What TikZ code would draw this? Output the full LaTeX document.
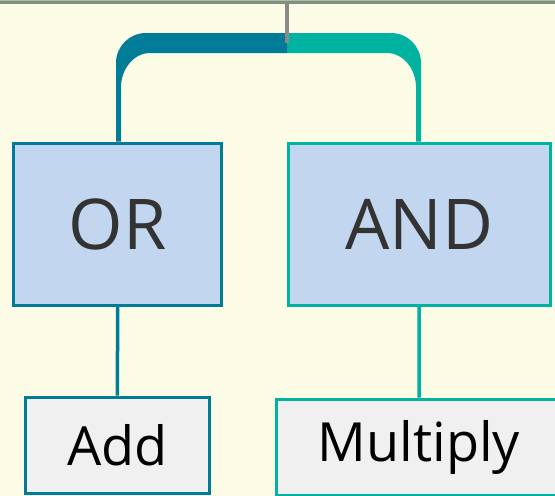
\documentclass[tikz,border=0pt]{standalone}
\usepackage{fontspec}
\setmainfont{Open Sans}
\usetikzlibrary{calc}
\definecolor{paper}{HTML}{FCFBE6}
\definecolor{ortone}{HTML}{007C98}
\definecolor{andtone}{HTML}{00B3A0}
\definecolor{rulegray}{HTML}{8A8A8A}
\definecolor{rulegreen}{HTML}{9CCB8C}
\definecolor{opfill}{HTML}{C2D6EF}
\definecolor{leaffill}{HTML}{F0F0F0}
\definecolor{optext}{HTML}{333333}
\tikzset{
  opbox/.style={draw, line width=3pt, fill=opfill, text=optext, inner sep=0pt,
    font=\fontsize{70}{70}\selectfont},
  leafbox/.style={draw, line width=3pt, fill=leaffill, text=black, inner sep=0pt,
    font=\fontsize{54}{54}\selectfont},
  link/.style={line width=3.5pt},
}
\begin{document}
\begin{tikzpicture}[x=1pt,y=-1pt]
  \fill[paper] (0,0) rectangle (555,496);
  \useasboundingbox (0,0) rectangle (555,496);
  \clip (0,0) rectangle (555,496);

  % operator and operand boxes
  \node[opbox, draw=ortone, minimum width=208pt, minimum height=162pt] (or) at (117.6,224) {OR};
  \node[opbox, draw=andtone, minimum width=261.7pt, minimum height=162pt] (and) at (419.2,224) {AND};
  \node[leafbox, draw=ortone, minimum width=183.3pt, minimum height=96pt] (add) at (117.4,445) {Add};
  \node[leafbox, draw=andtone, minimum width=285pt, minimum height=96pt, yshift=-2pt] (mul) at (419,445) {Multiply};

  % split bracket from the top rule to both operators
  \coordinate (hub) at (287,43);
  \begin{scope}[on background layer/.try]
  \fill[ortone] ($(or.north)+(-1.6,0)$) -- (116,63)
      .. controls (116,46.4) and (129.4,33) .. (146,33) -- (287,33) -- (287,53) -- (150,53)
      .. controls (133.4,53) and (121,69.6) .. (121,87) -- ($(or.north)+(3.4,0)$) -- cycle;
  \fill[andtone] ($(and.north)+(1.8,0)$) -- (421,63)
      .. controls (421,46.4) and (407.6,33) .. (391,33) -- (287,33) -- (287,53) -- (387,53)
      .. controls (403.6,53) and (416,69.6) .. (416,87) -- ($(and.north)+(-3.2,0)$) -- cycle;
  \end{scope}
  \draw[rulegray, line width=4pt] (287,1) -- (hub);
  \draw[rulegray, line width=3pt] (0,2.5) -- (555,2.5);
  \draw[rulegreen, line width=1pt] (0,0.5) -- (555,0.5);

  % redraw the boxes above the bracket
  \node[opbox, draw=ortone, minimum width=208pt, minimum height=162pt] at (or) {OR};
  \node[opbox, draw=andtone, minimum width=261.7pt, minimum height=162pt] at (and) {AND};

  % operand links
  \draw[link, ortone] (or.south) -- (add.north);
  \draw[link, andtone] (and.south) -- (mul.north);
\end{tikzpicture}
\end{document}
